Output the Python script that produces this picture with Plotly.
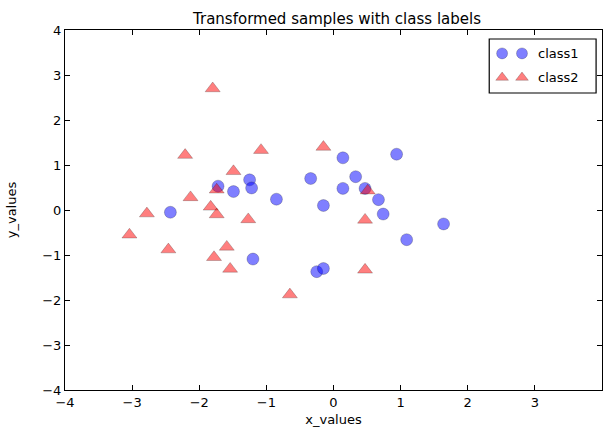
import plotly.graph_objects as go

class1_x = [-2.43, -1.72, -1.49, -1.25, -1.22, -0.85, -1.20, -0.34, -0.15, -0.25,
            -0.15, 0.14, 0.94, 0.33, 0.14, 0.47, 0.67, 0.74, 1.64, 1.09]
class1_y = [-0.05, 0.53, 0.41, 0.67, 0.49, 0.24, -1.09, 0.70, 0.10, -1.37,
            -1.30, 1.16, 1.24, 0.74, 0.48, 0.48, 0.23, -0.09, -0.31, -0.66]
class2_x = [-1.80, -2.21, -1.08, -0.15, -1.49, -1.74, -2.13, -1.83, -1.74, -2.78,
            -1.27, -3.04, -2.46, -1.59, -1.78, -1.54, -0.65, 0.51, 0.47, 0.47]
class2_y = [2.70, 1.22, 1.33, 1.40, 0.86, 0.45, 0.28, 0.07, -0.10, -0.08,
            -0.21, -0.55, -0.88, -0.82, -1.05, -1.31, -1.88, 0.43, -0.22, -1.33]
labels = ["class1", "class2"]
ticks = [-4, -3, -2, -1, 0, 1, 2, 3, 4]

blue = "rgba(0,0,255,0.5)"
red = "rgba(255,0,0,0.5)"
edge = dict(color="rgba(0,0,0,0.35)", width=0.6)
font = "DejaVu Sans, sans-serif"

fig = go.Figure()
fig.add_trace(go.Scatter(x=class1_x, y=class1_y, mode="markers", name=labels[0],
                         marker=dict(symbol="circle", size=12, color=blue, line=edge),
                         showlegend=False))
fig.add_trace(go.Scatter(x=class2_x, y=class2_y, mode="markers", name=labels[1],
                         marker=dict(symbol="triangle-up", size=13, color=red, line=edge),
                         showlegend=False))

# legend (two markers per entry, like matplotlib numpoints=2), placed in plot-area fractions
leg_rows = [0.935, 0.868]
fig.add_trace(go.Scatter(x=[0.814, 0.851], y=[leg_rows[0]] * 2, mode="markers", xaxis="x2", yaxis="y2",
                         marker=dict(symbol="circle", size=11, color=blue, line=edge),
                         showlegend=False, hoverinfo="skip"))
fig.add_trace(go.Scatter(x=[0.814, 0.851], y=[leg_rows[1]] * 2, mode="markers", xaxis="x2", yaxis="y2",
                         marker=dict(symbol="triangle-up", size=11, color=red, line=edge),
                         showlegend=False, hoverinfo="skip"))
fig.add_shape(type="rect", xref="x2", yref="y2", x0=0.790, x1=0.989, y0=0.825, y1=0.975,
              line=dict(color="black", width=1.2), fillcolor="rgba(0,0,0,0)")
for i, lab in enumerate(labels):
    fig.add_annotation(x=0.878, y=leg_rows[i], xref="x2", yref="y2", text=lab,
                       showarrow=False, xanchor="left", yanchor="middle",
                       font=dict(family=font, size=13, color="black"))

axis_common = dict(range=[-4, 4], tickvals=ticks, ticktext=[str(t).replace("-", "−") for t in ticks],
                   ticks="inside", ticklen=5, tickwidth=1, tickcolor="black",
                   showline=True, linecolor="black", linewidth=1.2, mirror="ticks",
                   showgrid=False, zeroline=False, automargin=False,
                   tickfont=dict(family=font, size=13, color="black"))

fig.update_layout(
    width=604, height=442,
    margin=dict(l=65, r=2, t=30, b=52),
    plot_bgcolor="white", paper_bgcolor="white",
    title=dict(text="Transformed samples with class labels", x=337 / 604, xanchor="center",
               yref="container", y=1 - 19 / 442, yanchor="middle",
               font=dict(family=font, size=15, color="black")),
    xaxis=dict(**axis_common, title=dict(text="x_values", standoff=6,
                                         font=dict(family=font, size=13, color="black"))),
    yaxis=dict(**axis_common, title=dict(text="y_values", standoff=22,
                                         font=dict(family=font, size=13, color="black"))),
    xaxis2=dict(range=[0, 1], overlaying="x", visible=False, anchor="y2"),
    yaxis2=dict(range=[0, 1], overlaying="y", visible=False, anchor="x2"),
)
fig.write_html("out.html", config={"displayModeBar": False},
               post_script="document.body.style.margin='0';document.body.style.overflow='hidden';")
